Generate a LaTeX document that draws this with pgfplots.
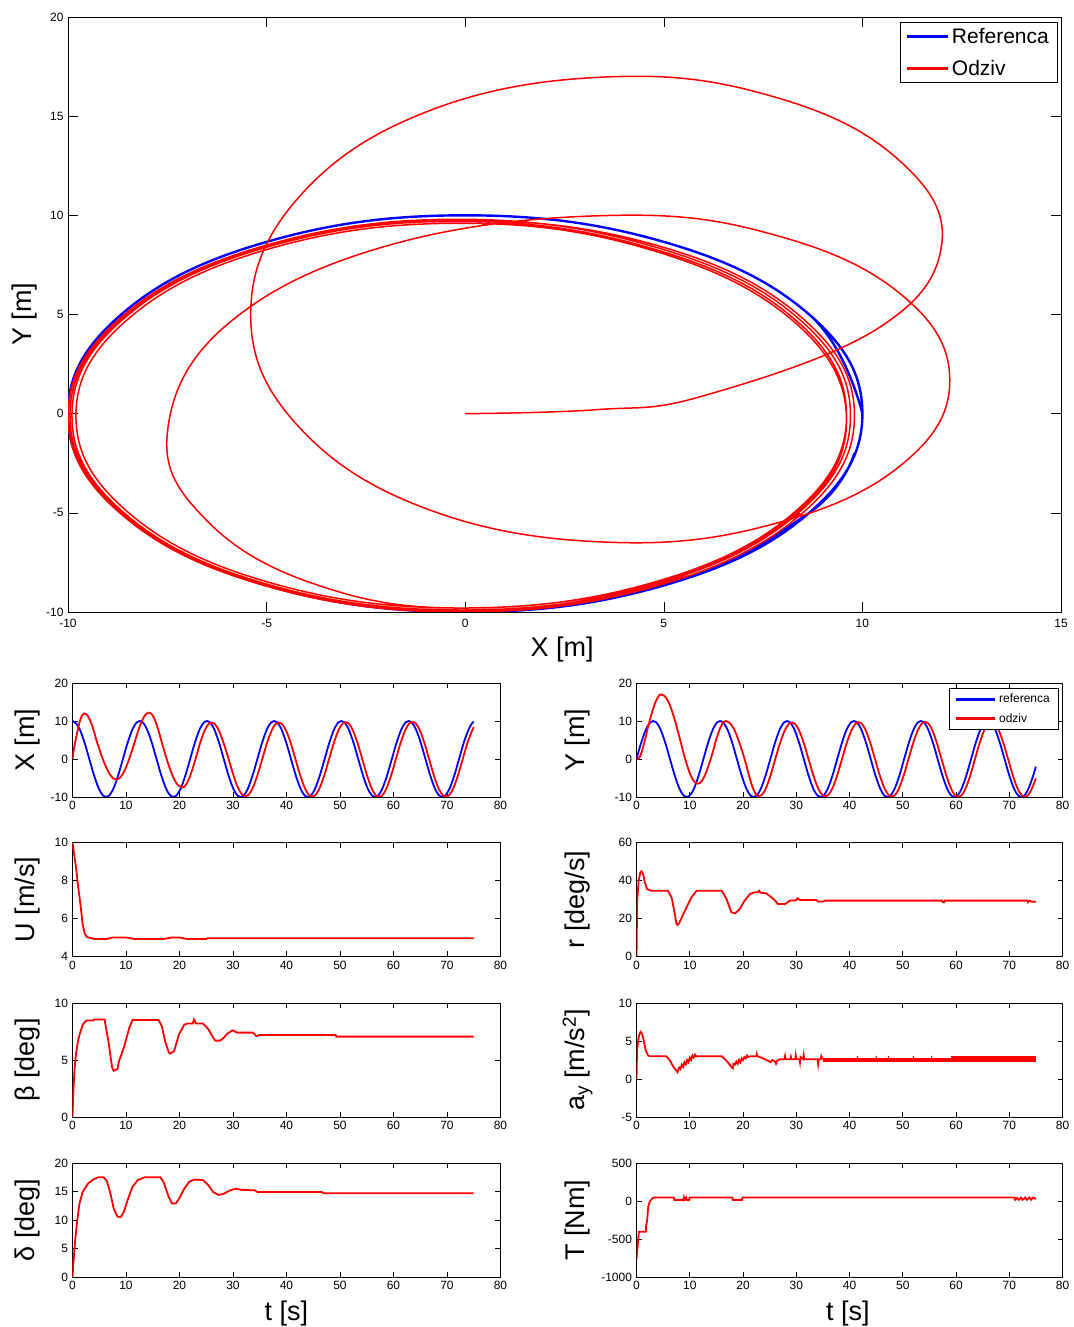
\documentclass[border=0pt]{standalone}
\usepackage{pgfplots}
\pgfplotsset{compat=1.18}
\usepackage{pgfplotstable}
\usepackage{fontspec}
\setmainfont{Liberation Sans}

\definecolor{mred}{RGB}{255,0,0}
\definecolor{mblue}{RGB}{0,0,255}

% reference circle: t, X, Y
\pgfplotstableread{
t X Y
0 10 0
1.047 8.66 5
2.094 5 8.66
3.142 0 10
4.189 -5 8.66
5.236 -8.66 5
6.283 -10 0
7.330 -8.66 -5
8.378 -5 -8.66
9.425 0 -10
10.472 5 -8.66
11.519 8.66 -5
12.566 10 0
13.614 8.66 5
14.661 5 8.66
15.708 0 10
16.755 -5 8.66
17.802 -8.66 5
18.850 -10 0
19.897 -8.66 -5
20.944 -5 -8.66
21.991 0 -10
23.038 5 -8.66
24.086 8.66 -5
25.133 10 0
26.180 8.66 5
27.227 5 8.66
28.274 0 10
29.322 -5 8.66
30.369 -8.66 5
31.416 -10 0
32.463 -8.66 -5
33.510 -5 -8.66
34.558 0 -10
35.605 5 -8.66
36.652 8.66 -5
37.699 10 0
38.746 8.66 5
39.794 5 8.66
40.841 0 10
41.888 -5 8.66
42.935 -8.66 5
43.982 -10 0
45.029 -8.66 -5
46.077 -5 -8.66
47.124 0 -10
48.171 5 -8.66
49.218 8.66 -5
50.265 10 0
51.313 8.66 5
52.360 5 8.66
53.407 0 10
54.454 -5 8.66
55.501 -8.66 5
56.549 -10 0
57.596 -8.66 -5
58.643 -5 -8.66
59.690 0 -10
60.737 5 -8.66
61.785 8.66 -5
62.832 10 0
63.879 8.66 5
64.926 5 8.66
65.973 0 10
67.021 -5 8.66
68.068 -8.66 5
69.115 -10 0
70.162 -8.66 -5
71.209 -5 -8.66
72.257 0 -10
73.304 5 -8.66
74.351 8.66 -5
75.000 9.80 -1.98
}\refdata

% vehicle response: t, X, Y
\pgfplotstableread{
t X Y
0 0 0
0.35 3.3 0.2
0.733 6.0 0.9
1.467 10.39 4.3
2.2 12.0 8.6
3.033 10.91 12.8
3.867 7.95 15.87
4.7 3.9 17.0
5.867 -0.75 15.39
7.033 -4.15 11.0
8.2 -5.4 5.0
9.3 -4.15 -0.75
10.4 -0.75 -4.96
11.5 3.9 -6.5
12.433 8.05 -5.4
13.367 11.09 -2.4
14.3 12.2 1.7
15.133 11.07 5.85
15.967 8.0 8.89
16.8 3.8 10.0
18.033 -1.85 8.53
19.267 -5.99 4.5
20.5 -7.5 -1.0
21.333 -6.5 -5.4
22.167 -3.75 -8.62
23.0 0 -9.8
24.0 4.8 -8.53
25.0 8.31 -5.05
26.0 9.6 -0.3
27.067 8.27 4.65
28.133 4.65 8.27
29.20 -0.1 9.6
30.24 -4.95 8.30
31.28 -8.50 4.75
32.32 -9.80 -0.1
33.36 -8.50 -4.95
34.40 -4.95 -8.50
35.45 -0.1 -9.80
36.49 4.75 -8.50
37.53 8.30 -4.95
38.57 9.60 -0.1
39.61 8.30 4.75
40.65 4.75 8.30
41.69 -0.1 9.7
42.73 -5.0 8.39
43.77 -8.59 4.8
44.81 -9.9 -0.1
45.85 -8.59 -5.0
46.90 -5.0 -8.59
47.94 -0.1 -9.9
48.98 4.8 -8.59
50.02 8.39 -5.0
51.06 9.7 -0.1
52.10 8.39 4.8
53.14 4.8 8.39
54.18 -0.1 9.8
55.22 -5.05 8.47
56.26 -8.67 4.85
57.30 -10.0 -0.1
58.35 -8.67 -5.05
59.39 -5.05 -8.67
60.43 -0.1 -10.0
61.47 4.85 -8.67
62.51 8.47 -5.05
63.55 9.8 -0.1
64.59 8.47 4.85
65.63 4.85 8.47
66.67 -0.1 9.75
67.71 -5.03 8.43
68.75 -8.63 4.83
69.80 -9.95 -0.1
70.84 -8.63 -5.03
71.88 -5.03 -8.63
72.92 -0.1 -9.95
73.96 4.83 -8.63
75.00 8.43 -5.03
}\resdata

\pgfplotsset{
  mat/.style={
    scale only axis,
    axis line style={black, line width=0.8pt},
    tick style={black, line width=0.6pt},
    tick align=inside,
    scaled ticks=false,
    /pgf/number format/assume math mode=true,
    /pgf/number format/1000 sep={},
    tick label style={font=\fontsize{12}{12}\selectfont},
    yticklabel style={xshift=-1pt},
  },
  panelL/.style={mat, width=428pt, height=114pt, xmin=0, xmax=80,
    xtick={0,10,...,80}, major tick length=5pt,
    xticklabel style={yshift=-1pt},
    every axis y label/.style={at={(axis description cs:-0.0888,0.5)}, rotate=90, anchor=base,
      font=\fontsize{27}{32}\selectfont},
    every axis x label/.style={at={(axis description cs:0.5,-0.183)}, anchor=north,
      font=\fontsize{27}{32}\selectfont}},
  panelR/.style={mat, width=426pt, height=114pt, xmin=0, xmax=80,
    xtick={0,10,...,80}, major tick length=5pt,
    xticklabel style={yshift=-1pt},
    every axis y label/.style={at={(axis description cs:-0.121,0.5)}, rotate=90, anchor=base,
      font=\fontsize{27}{32}\selectfont},
    every axis x label/.style={at={(axis description cs:0.496,-0.183)}, anchor=north,
      font=\fontsize{27}{32}\selectfont}},
  redline/.style={mred, line width=1.8pt},
  blueline/.style={mblue, line width=1.8pt},
}

\begin{document}
\begin{tikzpicture}
\path[use as bounding box] (0,0) rectangle (1073pt,1327pt);

% trajectory in the plane
\begin{axis}[mat, at={(68pt,715pt)}, anchor=south west,
  width=993pt, height=595pt,
  xmin=-10, xmax=15, ymin=-10, ymax=20,
  xtick={-10,-5,...,15}, ytick={-10,-5,...,20},
  major tick length=10pt,
  xticklabel style={yshift=-4pt},
  xlabel={X [m]}, ylabel={Y [m]},
  every axis x label/.style={at={(axis description cs:0.4975,-0.0353)}, anchor=north,
    font=\fontsize{27}{32}\selectfont},
  every axis y label/.style={at={(axis description cs:-0.0363,0.5)}, rotate=90, anchor=base,
    font=\fontsize{27}{32}\selectfont},
  legend style={at={(0.996,0.9916)}, anchor=north east, draw=black,
    font=\fontsize{21}{24}\selectfont, inner xsep=6pt, inner ysep=4pt, row sep=11pt,
    column sep=3pt, cells={anchor=west}},
  legend image code/.code={\fill[#1] (0pt,-1pt) rectangle (40pt,1pt);},
]
\addlegendimage{mblue}
\addlegendentry{Referenca}
\addlegendimage{mred}
\addlegendentry{Odziv}
\addplot[mblue, line width=2.4pt, smooth, tension=0.68, forget plot] table[x=X, y=Y] {\refdata};
\addplot[mred, line width=1.5pt, smooth, tension=0.68, forget plot] table[x=X, y=Y] {\resdata};
\end{axis}

% X(t)
\begin{axis}[panelL, at={(72.5pt,530pt)}, anchor=south west,
  ymin=-10, ymax=20, ytick={-10,0,10,20}, ylabel={X [m]}]
\addplot[blueline, smooth, tension=0.68] table[x=t, y=X] {\refdata};
\addplot[redline, smooth, tension=0.68] table[x=t, y=X] {\resdata};
\end{axis}

% Y(t)
\begin{axis}[panelR, at={(636.5pt,530pt)}, anchor=south west,
  ymin=-10, ymax=20, ytick={-10,0,10,20}, ylabel={Y [m]},
  legend style={at={(0.9894,0.956)}, anchor=north east, draw=black,
    font=\fontsize{12}{14}\selectfont, inner xsep=6pt, inner ysep=4pt, row sep=5pt,
    column sep=3pt, cells={anchor=west}},
  legend image code/.code={\fill[#1] (0pt,-0.9pt) rectangle (38pt,0.9pt);},
]
\addlegendimage{mblue}
\addlegendentry{referenca}
\addlegendimage{mred}
\addlegendentry{odziv}
\addplot[blueline, smooth, tension=0.68, forget plot] table[x=t, y=Y] {\refdata};
\addplot[redline, smooth, tension=0.68, forget plot] table[x=t, y=Y] {\resdata};
\end{axis}

% U(t)
\begin{axis}[panelL, at={(72.5pt,370.5pt)}, anchor=south west,
  ymin=4, ymax=10, ytick={4,6,8,10}, ylabel={U [m/s]}]
\addplot[redline] coordinates {
(0,10) (0.3,9.4) (0.7,8.6) (1.0,7.8) (1.5,6.7) (1.9,5.7) (2.3,5.2) (2.7,5.02)
(3.5,4.97) (4.2,4.92) (6.5,4.92) (7,4.97) (7.5,5.0) (10,5.0) (11,4.95) (11.5,4.92)
(17,4.92) (18,4.97) (18.5,5.0) (20,5.0) (21,4.94) (21.5,4.92) (25,4.92) (25.2,4.96) (75,4.96)};
\end{axis}

% r(t)
\begin{axis}[panelR, at={(636.5pt,370.5pt)}, anchor=south west,
  ymin=0, ymax=60, ytick={0,20,40,60}, ylabel={r [deg/s]}]
\addplot[redline] coordinates {
(0,0) (0.05,10) (0.1,28) (0.4,40) (0.7,44) (0.94,44.8) (1.25,43.4) (1.56,39) (2.0,35.5)
(2.8,34.6) (5.9,34.6) (6.6,31) (7.2,22.4) (7.5,17.1) (7.7,16.6) (8.0,17.5) (8.5,20.6)
(9.4,25.9) (10.3,31.1) (11.3,34.6) (16.0,34.6) (16.9,30.3) (17.8,23.3) (18.5,22.7)
(19.4,25.0) (20.3,29.4) (21.3,32.9) (22.2,33.8) (22.8,33.8) (23.0,34.6) (23.3,33.6)
(24.4,33.2) (25.7,30.3) (26.6,27.6) (27.9,27.6) (28.8,29.4) (30.0,29.6) (30.2,30.6)
(30.7,29.7) (33.8,29.7) (34.1,28.9) (35.0,28.9) (35.4,29.4) (57.4,29.4) (57.5,28.6)
(57.8,28.6) (57.9,29.4) (73.4,29.4) (73.5,28.6) (73.8,29.4) (74.3,28.8) (75,28.8)};
\end{axis}

% sideslip angle
\begin{axis}[panelL, at={(72.5pt,210pt)}, anchor=south west,
  ymin=0, ymax=10, ytick={0,5,10}, ylabel={β [deg]}]
\addplot[redline] coordinates {
(0,0) (0.1,1.5) (0.2,2.6) (0.4,4.3) (0.64,5.5) (1.0,6.6) (1.3,7.2) (1.9,8.1) (2.6,8.46)
(3.9,8.46) (4.0,8.55) (6.0,8.55) (6.1,8.26) (6.7,6.67) (7.4,4.35) (7.7,4.06) (8.4,4.2)
(8.7,4.9) (9.6,6.1) (10.6,7.8) (11.2,8.5) (16.1,8.5) (16.7,7.97) (17.3,6.67) (18.0,5.65)
(18.3,5.57) (19.0,5.8) (19.9,7.25) (20.9,8.1) (21.5,8.2) (22.5,8.2) (22.7,8.55) (23.1,8.2)
(24.4,8.2) (25.4,7.7) (26.3,6.96) (26.7,6.7) (27.6,6.7) (28.3,6.96) (28.9,7.3) (29.9,7.6)
(30.8,7.4) (33.7,7.4) (34.4,7.1) (35.0,7.2) (49.2,7.2) (49.3,7.05) (75,7.05)};
\end{axis}

% lateral acceleration
\begin{axis}[panelR, at={(636.5pt,210pt)}, anchor=south west,
  ymin=-5, ymax=10, ytick={-5,0,5,10},
  ylabel={a\textsubscript{y} [m/s\textsuperscript{2}]}]
\addplot[redline] coordinates {
(0,0) (0.1,3.7) (0.3,5.0) (0.5,5.8) (0.75,6.2) (1.0,6.0) (1.25,5.4) (1.75,3.7) (2.2,3.1)
(2.5,3.0) (5.6,3.0) (6.3,2.4) (7.0,1.5) (7.5,1.1) (7.7,0.9) (8.0,1.5) (8.25,1.3) (8.5,1.9)
(8.75,1.6) (9.0,2.2) (9.25,1.9) (9.5,2.5) (9.75,2.2) (10.0,2.8) (10.25,2.5) (10.5,3.1)
(10.75,2.8) (11.0,3.2) (11.25,2.95) (11.5,3.0) (16.0,3.0) (16.9,2.4) (17.5,1.9) (17.8,1.6)
(18.1,1.4) (18.2,2.0) (18.5,1.9) (18.75,2.3) (19.0,2.0) (19.25,2.5) (19.5,2.2) (19.75,2.7)
(20.0,2.5) (20.25,2.9) (20.5,2.7) (20.75,3.1) (21.0,2.9) (21.5,3.0) (22.5,3.0) (22.6,3.3)
(22.7,3.0) (23.5,2.8) (24.7,2.4) (25.2,2.2) (25.5,2.5) (26.0,2.3) (26.2,2.0) (26.4,2.4)
(26.9,2.6) (27.8,2.6) (27.9,3.0) (28.0,2.6) (28.9,2.6) (29.0,2.9) (29.1,2.6) (29.8,2.6)
(29.9,3.1) (30.0,2.6) (30.6,2.6) (30.7,2.2) (30.8,2.9) (31.3,2.6) (31.4,3.1) (31.5,2.6)
(34.0,2.6) (34.1,2.0) (34.2,2.6) (34.6,2.6) (34.7,3.0) (35.0,2.6)};
% steady part: the signal chatters inside a narrow band
\addplot[mred, line width=4.2pt] coordinates {(35.0,2.55) (59.0,2.55)};
\addplot[mred, line width=5.8pt] coordinates {(59.0,2.6) (75.0,2.6)};
\addplot[mred, line width=1pt] coordinates {(41.5,2.6) (41.5,3.0) (41.6,2.6) (45.0,2.6)
(45.0,3.05) (45.1,2.6) (47.3,2.6) (47.3,3.0) (47.4,2.6) (52.0,2.6) (52.0,3.05) (52.1,2.6)
(55.4,2.6) (55.4,3.05) (55.5,2.6)};
\end{axis}

% steering angle
\begin{axis}[panelL, at={(72.5pt,50pt)}, anchor=south west,
  ymin=0, ymax=20, ytick={0,5,10,15,20}, ylabel={δ [deg]}, xlabel={t [s]}]
\addplot[redline] coordinates {
(0,0) (0.2,2.9) (0.5,6.4) (0.84,9.6) (1.3,12.9) (1.9,14.9) (2.9,16.4) (3.9,17.1) (4.8,17.5)
(5.8,17.5) (6.4,16.9) (7.1,14.6) (7.7,12.0) (8.4,10.6) (9.0,10.5) (9.6,11.4) (10.3,13.5)
(11.2,15.8) (12.2,17.0) (13.5,17.5) (16.4,17.5) (17.0,16.7) (18.0,14.0) (18.6,12.9)
(19.3,12.9) (19.9,13.7) (20.9,15.5) (21.8,16.7) (22.8,17.1) (24.4,17.0) (25.4,16.1)
(26.3,14.9) (27.3,14.4) (28.3,14.6) (29.2,15.1) (30.5,15.5) (31.5,15.3) (34.1,15.2)
(34.6,14.9) (46.6,14.9) (46.9,14.7) (75,14.7)};
\end{axis}

% torque
\begin{axis}[panelR, at={(636.5pt,50pt)}, anchor=south west,
  ymin=-1000, ymax=500, ytick={-1000,-500,0,500}, ylabel={T [Nm]}, xlabel={t [s]}]
\addplot[redline] coordinates {
(0,-757) (0.2,-603) (0.45,-404) (1.75,-404) (1.8,-330) (2.0,-250) (2.2,-74) (2.5,-7)
(3.0,37) (3.3,46) (7.0,46) (7.1,15) (8.8,15) (8.9,46) (9.0,15) (9.3,46) (9.4,15) (9.9,15)
(10.0,46) (18.0,46) (18.1,15) (19.8,15) (19.9,46) (71.0,46) (71.1,15) (71.5,40) (71.8,15)
(72.2,46) (72.5,15) (73.0,46) (73.3,15) (73.8,46) (74.1,15) (74.5,46) (75,25)};
\end{axis}
\end{tikzpicture}
\end{document}
